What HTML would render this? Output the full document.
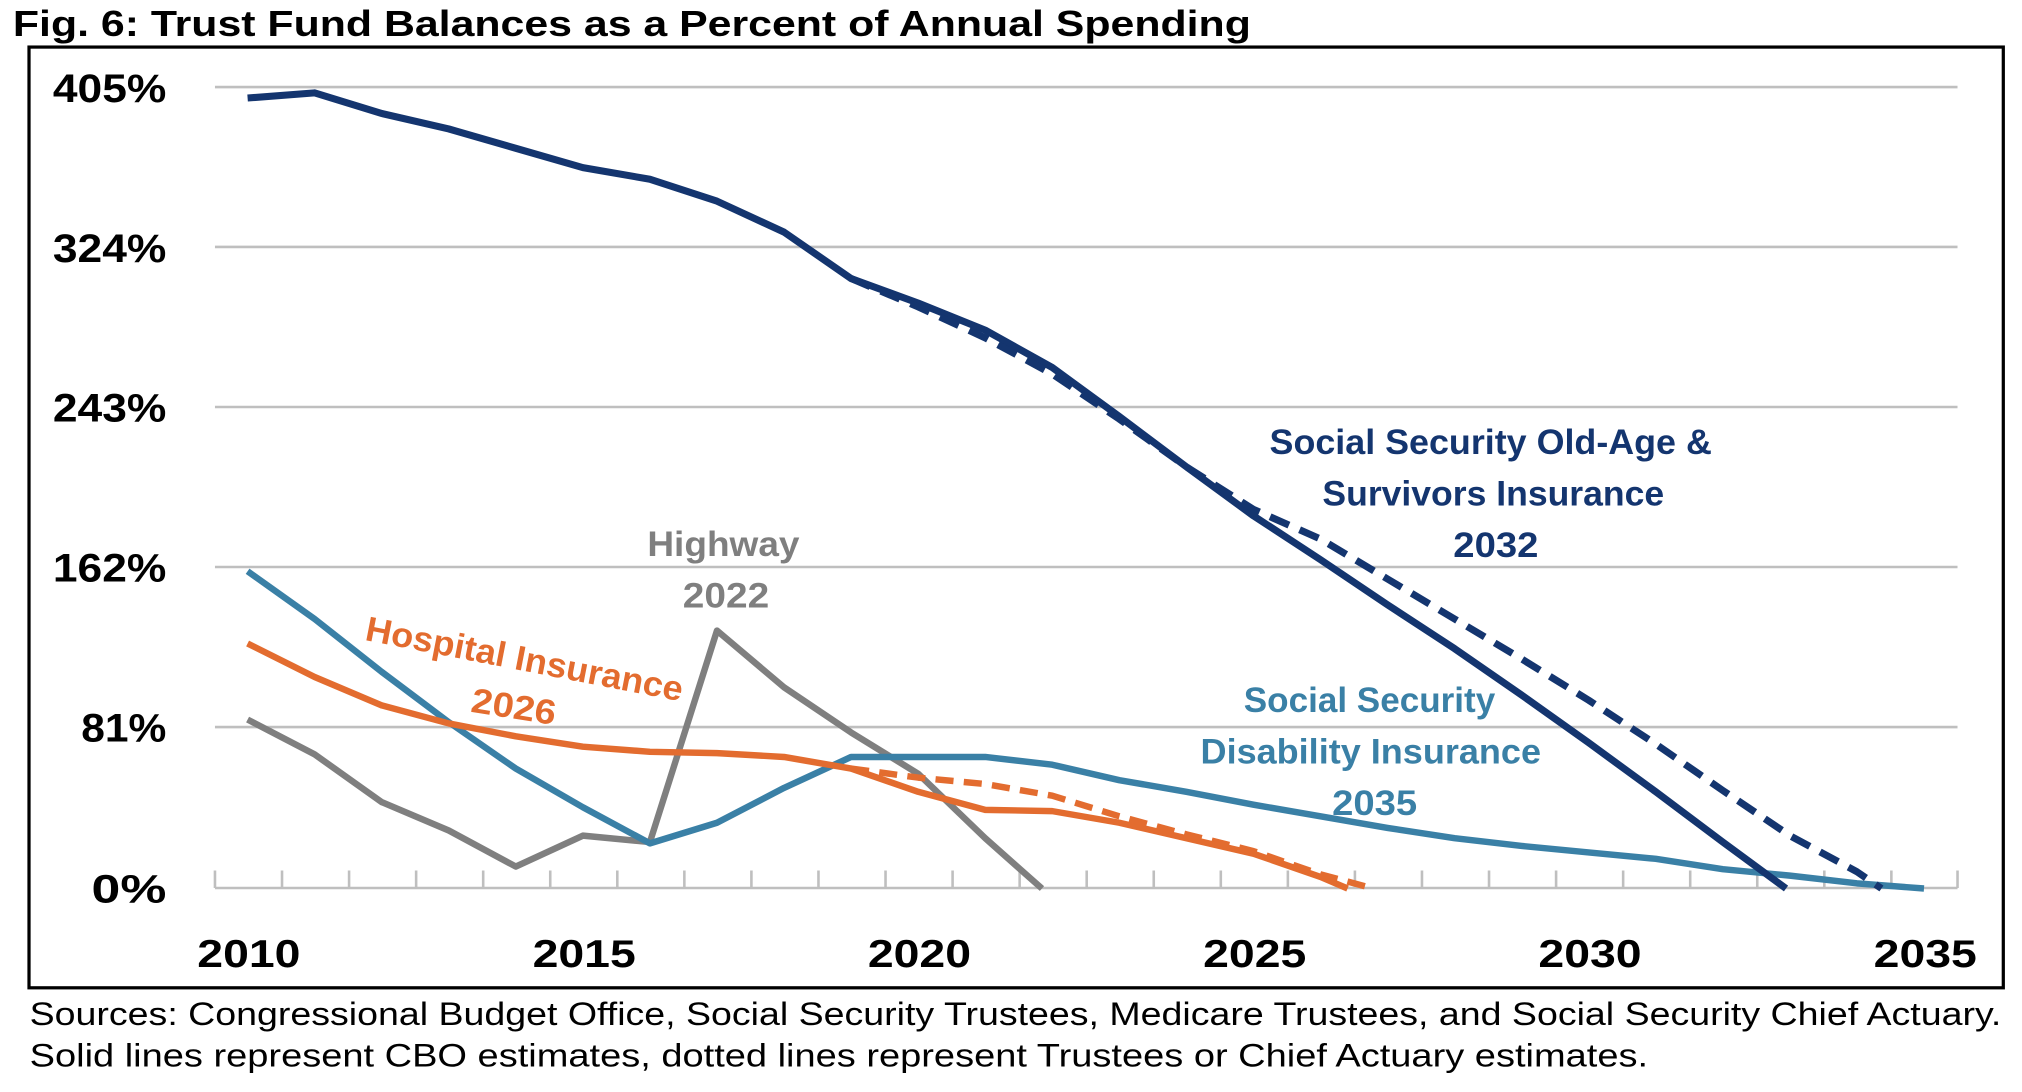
<!DOCTYPE html>
<html><head><meta charset="utf-8"><style>html,body{margin:0;padding:0;background:#fff}svg{display:block}</style></head>
<body>
<svg width="2022" height="1092" viewBox="0 0 1568 846.8" preserveAspectRatio="none" xmlns="http://www.w3.org/2000/svg" font-family="Liberation Sans, Arial, sans-serif">
<rect width="1568" height="846.8" fill="#fff"/>
<text x="10" y="28" font-size="28" font-weight="bold" textLength="960" lengthAdjust="spacingAndGlyphs">Fig. 6: Trust Fund Balances as a Percent of Annual Spending</text>
<rect x="22.5" y="36.5" width="1531" height="729.5" fill="none" stroke="#000" stroke-width="2.5"/>
<g stroke="#bfbfbf" stroke-width="2">
<line x1="166.7" y1="67.5" x2="1518" y2="67.5"/>
<line x1="166.7" y1="191.5" x2="1518" y2="191.5"/>
<line x1="166.7" y1="315.6" x2="1518" y2="315.6"/>
<line x1="166.7" y1="439.7" x2="1518" y2="439.7"/>
<line x1="166.7" y1="563.8" x2="1518" y2="563.8"/>
<line x1="166.7" y1="688.6" x2="1518" y2="688.6"/>
<path d="M166.7 675v13.6M218.7 675v13.6M270.7 675v13.6M322.7 675v13.6M374.7 675v13.6M426.7 675v13.6M478.7 675v13.6M530.7 675v13.6M582.7 675v13.6M634.7 675v13.6M686.7 675v13.6M738.7 675v13.6M790.7 675v13.6M842.7 675v13.6M894.7 675v13.6M946.7 675v13.6M998.7 675v13.6M1050.7 675v13.6M1102.7 675v13.6M1154.7 675v13.6M1206.7 675v13.6M1258.7 675v13.6M1310.7 675v13.6M1362.7 675v13.6M1414.7 675v13.6M1466.7 675v13.6M1518 675v13.6"/>
</g>
<g font-size="31" font-weight="bold" text-anchor="end">
<text x="129" y="79" textLength="88" lengthAdjust="spacingAndGlyphs">405%</text>
<text x="129" y="203" textLength="88" lengthAdjust="spacingAndGlyphs">324%</text>
<text x="129" y="327" textLength="88" lengthAdjust="spacingAndGlyphs">243%</text>
<text x="129" y="451" textLength="88" lengthAdjust="spacingAndGlyphs">162%</text>
<text x="129" y="575" textLength="66" lengthAdjust="spacingAndGlyphs">81%</text>
<text x="129" y="700" textLength="58" lengthAdjust="spacingAndGlyphs">0%</text>
</g>
<g font-size="30" font-weight="bold" text-anchor="middle">
<text x="193" y="750" textLength="80" lengthAdjust="spacingAndGlyphs">2010</text>
<text x="453" y="750" textLength="80" lengthAdjust="spacingAndGlyphs">2015</text>
<text x="713" y="750" textLength="80" lengthAdjust="spacingAndGlyphs">2020</text>
<text x="973" y="750" textLength="80" lengthAdjust="spacingAndGlyphs">2025</text>
<text x="1233" y="750" textLength="80" lengthAdjust="spacingAndGlyphs">2030</text>
<text x="1493" y="750" textLength="80" lengthAdjust="spacingAndGlyphs">2035</text>
</g>
<g fill="none" stroke-linejoin="round" stroke-width="5">
<polyline stroke="#7f7f7f" points="192,558 244,585 296,622 348,644 400,672 452,648 504,653 556,489 608,533 660,568 712,600 764,650 808,689"/>
<polyline stroke="#3a80a6" points="192,443 244,480 296,521 348,560 400,596 452,626 504,654 556,638 608,611 660,587 712,587 764,587 816,593 868,605 920,614 972,624 1024,633 1076,642 1128,650 1180,656 1232,661 1284,666 1336,674 1388,679 1440,685 1492,689"/>
<polyline stroke="#e36c2f" points="192,499 244,525 296,547 348,561 400,571 452,579 504,583 556,584 608,587 660,596 712,614 764,628 816,629 868,638 920,650 972,662 1024,680 1045,689"/>
<polyline stroke="#e36c2f" stroke-dasharray="14,8" points="660,596 712,603 764,608 816,617 868,633 920,647 972,660 1024,678 1065,689"/>
<polyline stroke="#14356f" stroke-width="5.5" points="192,76 244,72 296,88 348,100 400,115 452,130 504,139 556,156 608,180 660,216 712,235 764,256 816,285 868,323 920,362 972,400 1024,434 1076,469 1128,503 1180,539 1232,576 1284,614 1336,653 1385,689"/>
<polyline stroke="#14356f" stroke-width="5.5" stroke-dasharray="16,9" points="660,216 712,238 764,262 816,290 868,325 920,362 972,395 1024,418 1076,449 1128,480 1180,511 1232,543 1284,577 1336,613 1388,648 1440,676 1459,689"/>
</g>
<g font-size="27" font-weight="bold" text-anchor="middle">
<text x="1156" y="352" fill="#14356f" textLength="343" lengthAdjust="spacingAndGlyphs">Social Security Old-Age &amp;</text>
<text x="1158" y="392" fill="#14356f" textLength="265" lengthAdjust="spacingAndGlyphs">Survivors Insurance</text>
<text x="1160" y="432" fill="#14356f" textLength="66" lengthAdjust="spacingAndGlyphs">2032</text>
<text x="1062" y="552" fill="#3a80a6" textLength="195" lengthAdjust="spacingAndGlyphs">Social Security</text>
<text x="1063" y="592" fill="#3a80a6" textLength="264" lengthAdjust="spacingAndGlyphs">Disability Insurance</text>
<text x="1066" y="632" fill="#3a80a6" textLength="66" lengthAdjust="spacingAndGlyphs">2035</text>
<text x="561" y="431" fill="#7f7f7f" textLength="118" lengthAdjust="spacingAndGlyphs">Highway</text>
<text x="563" y="471" fill="#7f7f7f" textLength="67" lengthAdjust="spacingAndGlyphs">2022</text>
<text x="0" y="0" fill="#e36c2f" transform="translate(405,520) rotate(11)" textLength="250" lengthAdjust="spacingAndGlyphs">Hospital Insurance</text>
<text x="0" y="0" fill="#e36c2f" transform="translate(397,557) rotate(9)" textLength="66" lengthAdjust="spacingAndGlyphs">2026</text>
</g>
<text x="23" y="795" font-size="25" textLength="1529" lengthAdjust="spacingAndGlyphs">Sources: Congressional Budget Office, Social Security Trustees, Medicare Trustees, and Social Security Chief Actuary.</text>
<text x="23" y="827" font-size="25" textLength="1255" lengthAdjust="spacingAndGlyphs">Solid lines represent CBO estimates, dotted lines represent Trustees or Chief Actuary estimates.</text>
</svg>
</body></html>
